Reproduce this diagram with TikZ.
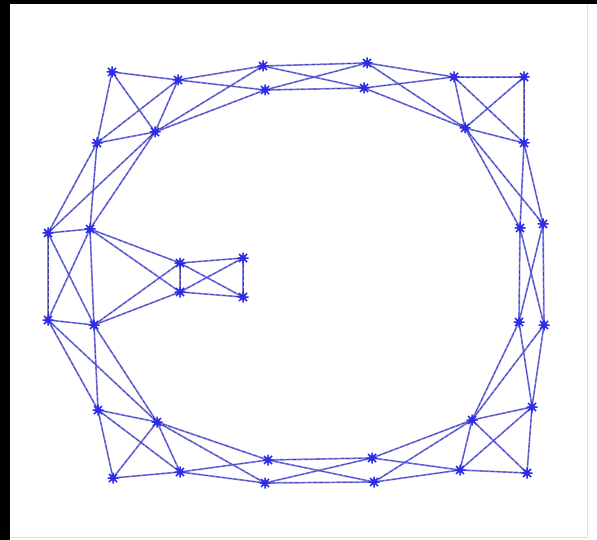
\documentclass[tikz,border=0pt]{standalone}
\usepackage{tikz}
\definecolor{edgeblue}{RGB}{95,95,235}
\definecolor{darkline}{RGB}{40,40,120}
\definecolor{markblue}{RGB}{45,45,230}
\tikzset{
  edge/.style={edgeblue, line width=1.7pt, opacity=0.8},
  edgedark/.style={darkline, line width=0.6pt, dash pattern=on 4pt off 2pt, opacity=0.75},
  starmark/.pic={
    \fill[markblue, opacity=0.6] (0,0) circle (3.5pt);
    \draw[markblue, line width=1.5pt] (-5.5pt,0)--(5.5pt,0) (0,-5.5pt)--(0,5.5pt)
      (-4pt,-4pt)--(4pt,4pt) (-4pt,4pt)--(4pt,-4pt);
  }
}
\begin{document}
\begin{tikzpicture}[x=1pt,y=1pt]
\useasboundingbox (0,0) rectangle (597,-540);
\fill[black] (0,0) rectangle (597,-540);
\fill[white] (10,-4) rectangle (597,-540);
\draw[black!12, line width=0.8pt] (587,-4) -- (587,-537) -- (10,-537);
% nodes
\coordinate (A1) at (112,-72);
\coordinate (A2) at (178,-80);
\coordinate (A3) at (97,-143);
\coordinate (A4) at (155,-132);
\coordinate (T1) at (263,-66);
\coordinate (T2) at (265,-90);
\coordinate (T3) at (367,-63);
\coordinate (T4) at (364,-88);
\coordinate (B1) at (454,-77);
\coordinate (B2) at (524,-77);
\coordinate (B3) at (465,-128);
\coordinate (B4) at (524,-143);
\coordinate (L1) at (48,-233);
\coordinate (L2) at (90,-229);
\coordinate (L3) at (48,-320);
\coordinate (L4) at (94,-325);
\coordinate (I1) at (180,-263);
\coordinate (I2) at (243,-258);
\coordinate (I3) at (180,-292);
\coordinate (I4) at (243,-297);
\coordinate (R1) at (520,-228);
\coordinate (R2) at (543,-224);
\coordinate (R3) at (519,-322);
\coordinate (R4) at (544,-325);
\coordinate (C1) at (98,-410);
\coordinate (C2) at (157,-422);
\coordinate (C3) at (113,-478);
\coordinate (C4) at (180,-472);
\coordinate (D1) at (268,-460);
\coordinate (D2) at (265,-483);
\coordinate (D3) at (372,-458);
\coordinate (D4) at (374,-482);
\coordinate (E1) at (472,-420);
\coordinate (E2) at (532,-407);
\coordinate (E3) at (460,-470);
\coordinate (E4) at (527,-473);
% edges
\foreach \a/\b in {A1/A2,A1/A3,A1/A4,A2/A3,A2/A4,A3/A4,
  A2/T1,A2/T2,A4/T1,A4/T2,T1/T3,T1/T4,T2/T3,T2/T4,
  T3/B1,T4/B1,T3/B3,T4/B3,
  B1/B2,B1/B3,B1/B4,B2/B3,B2/B4,B3/B4,
  B3/R1,B3/R2,B4/R1,B4/R2,R1/R3,R2/R4,R1/R4,R2/R3,
  R3/E1,R3/E2,R4/E1,R4/E2,
  E1/E2,E1/E3,E1/E4,E2/E3,E2/E4,E3/E4,
  D3/E1,D3/E3,D4/E1,D4/E3,D1/D3,D1/D4,D2/D3,D2/D4,
  C2/D1,C2/D2,C4/D1,C4/D2,
  C1/C2,C1/C3,C1/C4,C2/C3,C2/C4,C3/C4,
  L3/C1,L3/C2,L4/C1,L4/C2,
  L1/L2,L3/L4,L1/L3,L2/L4,L1/L4,L2/L3,
  A3/L1,A3/L2,A4/L1,A4/L2,
  L2/I1,L2/I3,L4/I1,L4/I3,
  I1/I2,I3/I4,I1/I4,I2/I3,I1/I3,I2/I4}
{
  \draw[edge] (\a) -- (\b);
  \draw[edgedark] (\a) -- (\b);
}
% markers
\foreach \n in {A1,A2,A3,A4,T1,T2,T3,T4,B1,B2,B3,B4,L1,L2,L3,L4,I1,I2,I3,I4,
  R1,R2,R3,R4,C1,C2,C3,C4,D1,D2,D3,D4,E1,E2,E3,E4}
  \pic at (\n) {starmark};
\end{tikzpicture}
\end{document}
